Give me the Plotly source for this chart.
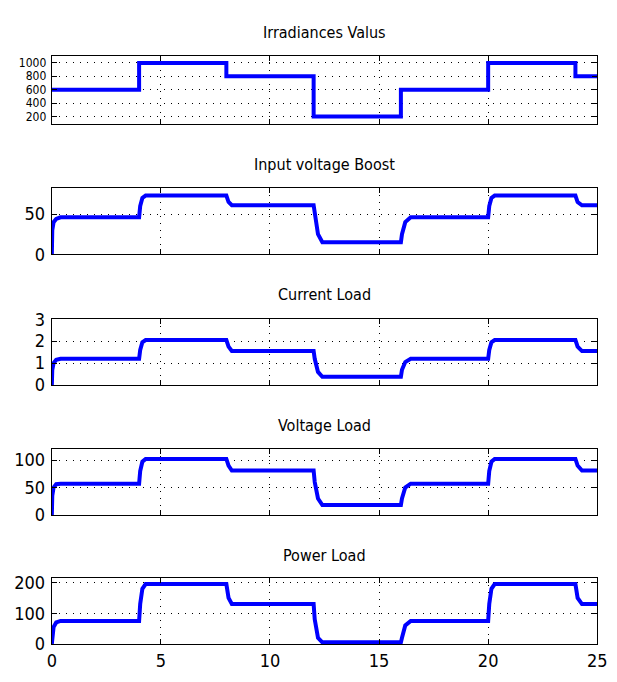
import plotly.graph_objects as go

# ---- data ----
titles = ["Irradiances Valus", "Input voltage Boost", "Current Load", "Voltage Load", "Power Load"]

t_irr = [0, 4, 4, 8, 8, 12, 12, 16, 16, 20, 20, 24, 24, 25]
irradiance = [600, 600, 1000, 1000, 800, 800, 200, 200, 600, 600, 1000, 1000, 800, 800]

t = [0, 0.02, 0.08, 0.2, 0.4,
     4.0, 4.05, 4.15, 4.3,
     8.0, 8.1, 8.25,
     12.0, 12.05, 12.2, 12.4,
     16.0, 16.05, 16.2, 16.45,
     20.0, 20.05, 20.15, 20.3,
     24.0, 24.1, 24.3, 25]

v_in = [0, 30, 40, 44, 46,
        46, 60, 70, 73,
        73, 65, 61,
        61, 50, 25, 15,
        15, 25, 40, 46,
        46, 60, 70, 73,
        73, 65, 61, 61]

i_load = [0, 0.7, 1.0, 1.15, 1.2,
          1.2, 1.6, 1.95, 2.05,
          2.05, 1.75, 1.55,
          1.55, 1.2, 0.6, 0.38,
          0.38, 0.7, 1.05, 1.2,
          1.2, 1.6, 1.95, 2.05,
          2.05, 1.75, 1.55, 1.55]

v_load = [0, 35, 50, 56, 57,
          57, 80, 97, 102,
          102, 90, 81,
          81, 60, 30, 18,
          18, 30, 50, 57,
          57, 80, 97, 102,
          102, 90, 81, 81]

p_load = [0, 30, 55, 70, 75,
          75, 130, 180, 195,
          195, 150, 130,
          130, 80, 20, 5,
          5, 20, 60, 75,
          75, 130, 180, 195,
          195, 150, 130, 130]

x_ticks = [0, 5, 10, 15, 20, 25]
y_ticks = [[200, 400, 600, 800, 1000], [0, 50], [0, 1, 2, 3], [0, 50, 100], [0, 100, 200]]
y_ranges = [[80, 1110], [0, 82], [0, 3], [0, 120], [0, 215]]

series = [(t_irr, irradiance), (t, v_in), (t, i_load), (t, v_load), (t, p_load)]

# ---- layout (pixels from top) ----
W, H = 617, 682
boxes = [(46, 117), (183, 251), (318, 386), (452, 520), (585, 653)]
title_y = [22, 158, 293, 428, 562]
x0, x1 = 48, 607

FONT = "DejaVu Sans Condensed, Liberation Sans Narrow, Liberation Sans, Arial"

fig = go.Figure()
layout = dict(width=W, height=H, margin=dict(l=0, r=0, t=0, b=0),
              paper_bgcolor="white", plot_bgcolor="white", showlegend=False,
              font=dict(family=FONT, size=18, color="black"))
annotations = []
for k, ((tx, vy), (top, bot)) in enumerate(zip(series, boxes)):
    xa = "x" if k == 0 else f"x{k+1}"
    ya = "y" if k == 0 else f"y{k+1}"
    fig.add_trace(go.Scatter(x=tx, y=vy, mode="lines", xaxis=xa, yaxis=ya,
                             line=dict(color="#0000FF", width=4)))
    axis_common = dict(showline=True, linecolor="black", linewidth=1.2, mirror="ticks",
                       ticks="inside", ticklen=5, tickcolor="black",
                       showgrid=True, gridcolor="black", griddash="1px,6px", gridwidth=1.2,
                       zeroline=False, fixedrange=True)
    layout["xaxis" if k == 0 else f"xaxis{k+1}"] = dict(
        axis_common, domain=[x0 / W, x1 / W], range=[0, 25], tickvals=x_ticks,
        showticklabels=(k == 4), anchor=ya, ticklabeloverflow="allow",
        tickfont=dict(family=FONT, size=18))
    layout["yaxis" if k == 0 else f"yaxis{k+1}"] = dict(
        axis_common, domain=[1 - bot / H, 1 - top / H], range=y_ranges[k],
        tickvals=y_ticks[k], anchor=xa, ticklabelstandoff=2, ticklabeloverflow="allow",
        tickfont=dict(family=FONT, size=(12 if k == 0 else 18)))
    annotations.append(dict(text=titles[k], x=(x0 + x1) / 2 / W, y=1 - title_y[k] / H,
                            xref="paper", yref="paper", showarrow=False,
                            xanchor="center", yanchor="middle",
                            font=dict(family=FONT, size=16, color="black")))
layout["annotations"] = annotations
fig.update_layout(**layout)
fig.write_html("out.html")
